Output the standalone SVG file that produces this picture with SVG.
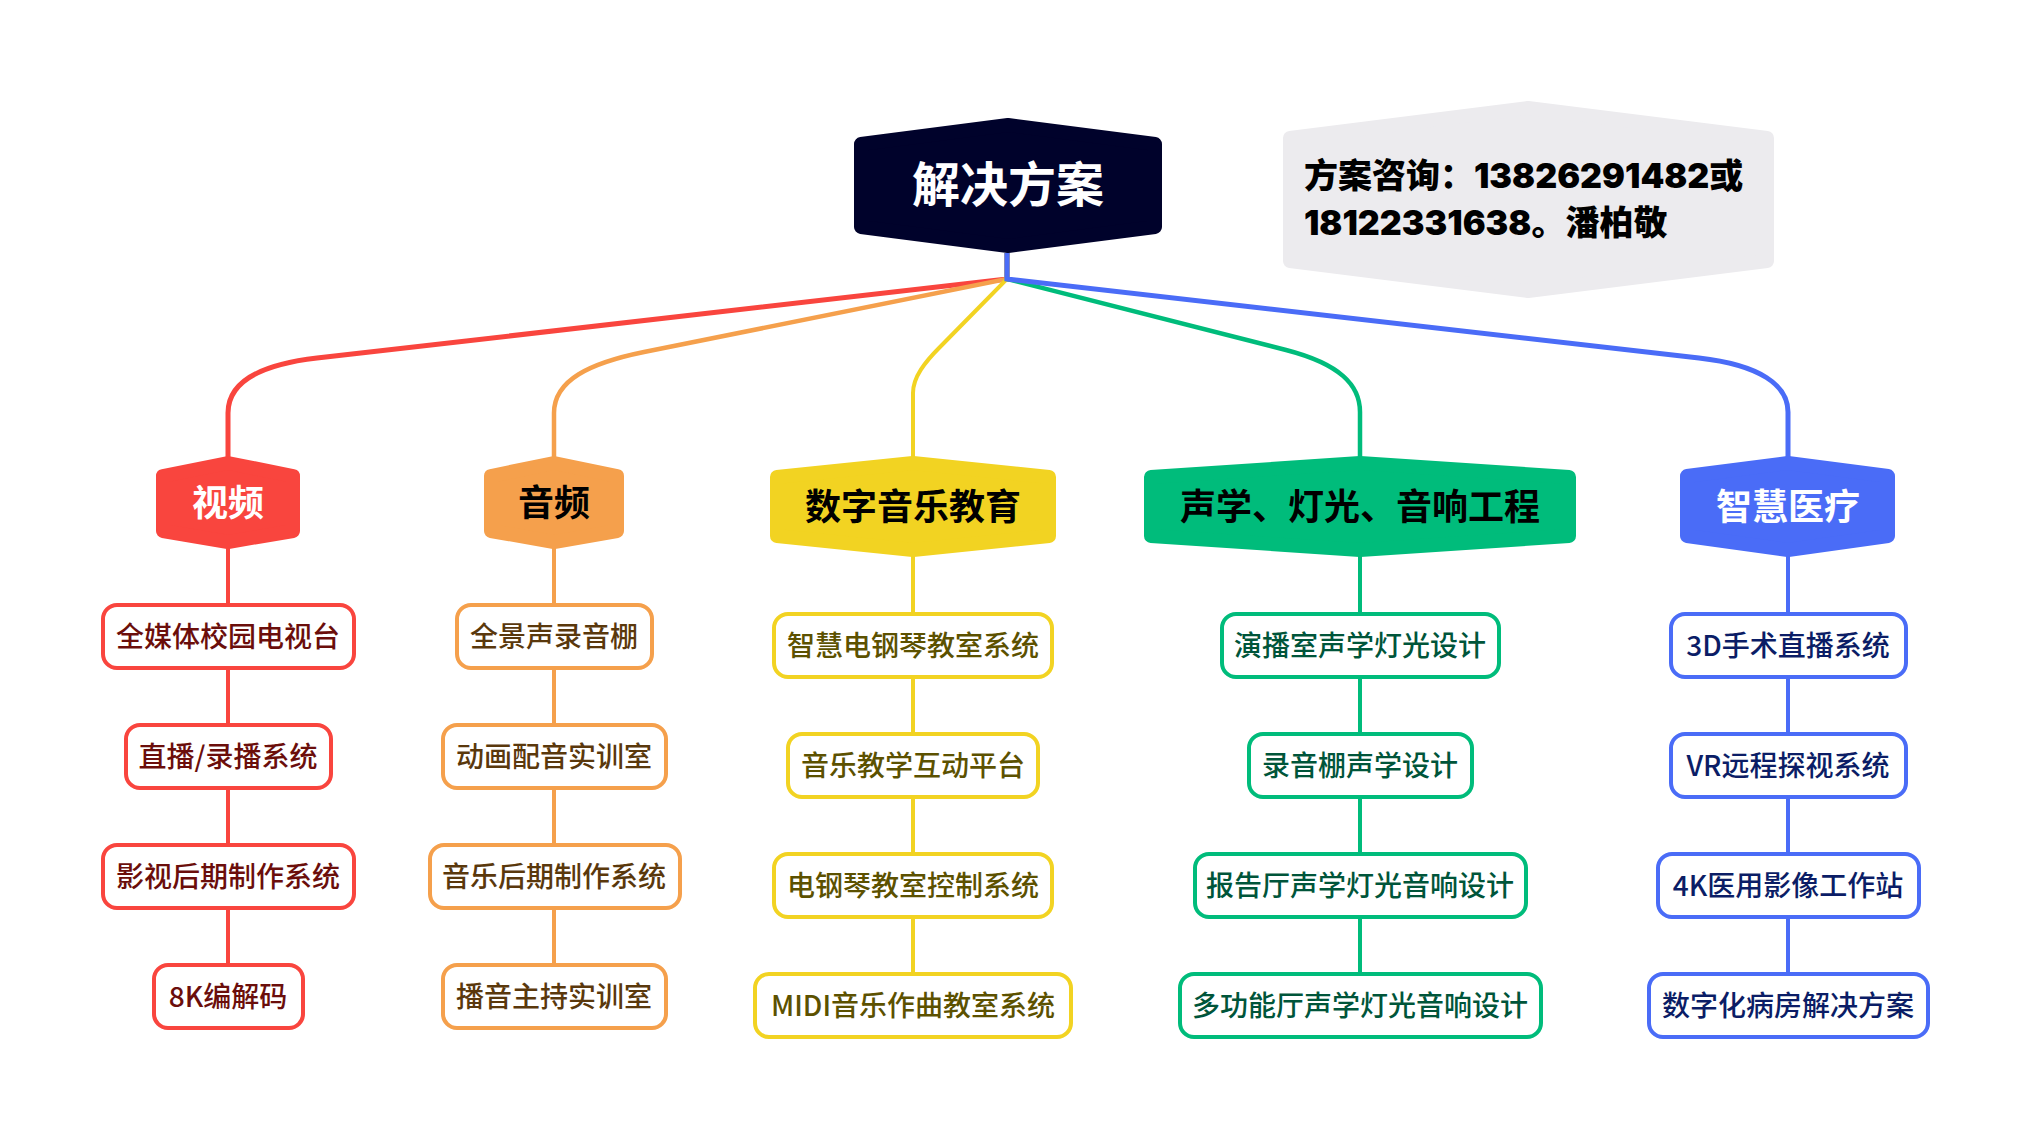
<svg xmlns="http://www.w3.org/2000/svg" width="2030" height="1138" viewBox="0 0 2030 1138">
<defs>
<style>
text{font-family:"Noto Sans CJK SC","Noto Sans",sans-serif;text-anchor:middle;dominant-baseline:central}
.hex{stroke-width:14;stroke-linejoin:round}
.l1{font-size:36px;font-weight:700}
.leaf rect{fill:#fff;stroke-width:4}
.leaf text{font-size:28px;font-weight:500}
.red rect{stroke:#F9453E}.red text{fill:#6B0E0B}
.org rect{stroke:#F5A04C}.org text{fill:#5A380C}
.yel rect{stroke:#F2D322}.yel text{fill:#5C5100}
.grn rect{stroke:#00BC7B}.grn text{fill:#00553A}
.blu rect{stroke:#4A6CF7}.blu text{fill:#0B1D66}
.info{font-family:Inter,"Noto Sans CJK SC",sans-serif;font-size:34px;font-weight:900;text-anchor:start;fill:#000}
</style>
</defs>
<rect width="2030" height="1138" fill="#fff"/>
<g id="connectors" fill="none">
<path d="M1007,253 V279 L317,358 C265,364 228,380 228,413 V460" stroke="#F9453E" stroke-width="5"/>
<path d="M1007,253 V279 L644,352 C590,363 554,380 554,413 V460" stroke="#F5A04C" stroke-width="4.5"/>
<path d="M1007,253 V279 L940,347 C925,362 913,377 913,393 V460" stroke="#F2D322" stroke-width="4"/>
<path d="M1007,253 V279 L1286,350 C1340,364 1360,385 1360,412 V460" stroke="#00BC7B" stroke-width="4.5"/>
<path d="M1007,253 V279 L1699,358 C1760,365 1788,385 1788,412 V460" stroke="#4A6CF7" stroke-width="5"/>
<path d="M228,545 V967" stroke="#F9453E" stroke-width="4"/>
<path d="M554,545 V967" stroke="#F5A04C" stroke-width="4"/>
<path d="M913,553 V976" stroke="#F2D322" stroke-width="4"/>
<path d="M1360,553 V976" stroke="#00BC7B" stroke-width="4"/>
<path d="M1788,553 V976" stroke="#4A6CF7" stroke-width="4"/>
</g>
<g id="root">
<polygon class="hex" points="1008,125 1155,144 1155,227 1008,246 861,227 861,144" fill="#00022B" stroke="#00022B"/>
<text x="1008" y="181" font-size="48" font-weight="700" fill="#fff">解决方案</text>
</g>
<g id="info">
<polygon class="hex" points="1528,108 1767,138 1767,261 1528,291 1290,261 1290,138" fill="#ECEBEE" stroke="#ECEBEE"/>
<text class="info" x="1304" y="175">方案咨询：13826291482或</text>
<text class="info" x="1304" y="222">18122331638。潘柏敬</text>
</g>
<g id="n-video">
<polygon class="hex" points="228,463 293,476 293,531 228,542 163,531 163,476" fill="#F9453E" stroke="#F9453E"/>
<text class="l1" x="228" y="500" fill="#fff">视频</text>
</g>
<g id="n-audio">
<polygon class="hex" points="554,463 617,476 617,531 554,542 491,531 491,476" fill="#F5A04C" stroke="#F5A04C"/>
<text class="l1" x="554" y="500" fill="#000">音频</text>
</g>
<g id="n-music">
<polygon class="hex" points="913,463 1049,477 1049,536 913,550 777,536 777,477" fill="#F2D322" stroke="#F2D322"/>
<text class="l1" x="913" y="504" fill="#000">数字音乐教育</text>
</g>
<g id="n-acoustic">
<polygon class="hex" points="1360,463 1569,477 1569,536 1360,550 1151,536 1151,477" fill="#00BC7B" stroke="#00BC7B"/>
<text class="l1" x="1360" y="504" fill="#000">声学、灯光、音响工程</text>
</g>
<g id="n-medical">
<polygon class="hex" points="1788,463 1888,476 1888,536 1788,550 1687,536 1687,476" fill="#4A6CF7" stroke="#4A6CF7"/>
<text class="l1" x="1788" y="504" fill="#fff">智慧医疗</text>
</g>
<g id="v1" class="leaf red"><rect x="103" y="605" width="251" height="63" rx="14"/><text x="228" y="634.5">全媒体校园电视台</text></g>
<g id="v2" class="leaf red"><rect x="126" y="725" width="205" height="63" rx="14"/><text x="228" y="754.5">直播/录播系统</text></g>
<g id="v3" class="leaf red"><rect x="103" y="845" width="251" height="63" rx="14"/><text x="228" y="874.5">影视后期制作系统</text></g>
<g id="v4" class="leaf red"><rect x="154" y="965" width="149" height="63" rx="14"/><text x="228" y="994.5">8K编解码</text></g>
<g id="a1" class="leaf org"><rect x="457" y="605" width="195" height="63" rx="14"/><text x="554" y="634.5">全景声录音棚</text></g>
<g id="a2" class="leaf org"><rect x="443" y="725" width="223" height="63" rx="14"/><text x="554" y="754.5">动画配音实训室</text></g>
<g id="a3" class="leaf org"><rect x="430" y="845" width="250" height="63" rx="14"/><text x="554" y="874.5">音乐后期制作系统</text></g>
<g id="a4" class="leaf org"><rect x="443" y="965" width="223" height="63" rx="14"/><text x="554" y="994.5">播音主持实训室</text></g>
<g id="m1" class="leaf yel"><rect x="774" y="614" width="278" height="63" rx="14"/><text x="913" y="643.5">智慧电钢琴教室系统</text></g>
<g id="m2" class="leaf yel"><rect x="788" y="734" width="250" height="63" rx="14"/><text x="913" y="763.5">音乐教学互动平台</text></g>
<g id="m3" class="leaf yel"><rect x="774" y="854" width="278" height="63" rx="14"/><text x="913" y="883.5">电钢琴教室控制系统</text></g>
<g id="m4" class="leaf yel"><rect x="755" y="974" width="316" height="63" rx="14"/><text x="913" y="1003.5">MIDI音乐作曲教室系统</text></g>
<g id="s1" class="leaf grn"><rect x="1222" y="614" width="277" height="63" rx="14"/><text x="1360" y="643.5">演播室声学灯光设计</text></g>
<g id="s2" class="leaf grn"><rect x="1249" y="734" width="223" height="63" rx="14"/><text x="1360" y="763.5">录音棚声学设计</text></g>
<g id="s3" class="leaf grn"><rect x="1195" y="854" width="331" height="63" rx="14"/><text x="1360" y="883.5">报告厅声学灯光音响设计</text></g>
<g id="s4" class="leaf grn"><rect x="1180" y="974" width="361" height="63" rx="14"/><text x="1360" y="1003.5">多功能厅声学灯光音响设计</text></g>
<g id="h1" class="leaf blu"><rect x="1671" y="614" width="235" height="63" rx="14"/><text x="1788" y="643.5">3D手术直播系统</text></g>
<g id="h2" class="leaf blu"><rect x="1671" y="734" width="235" height="63" rx="14"/><text x="1788" y="763.5">VR远程探视系统</text></g>
<g id="h3" class="leaf blu"><rect x="1658" y="854" width="261" height="63" rx="14"/><text x="1788" y="883.5">4K医用影像工作站</text></g>
<g id="h4" class="leaf blu"><rect x="1649" y="974" width="279" height="63" rx="14"/><text x="1788" y="1003.5">数字化病房解决方案</text></g>
</svg>
